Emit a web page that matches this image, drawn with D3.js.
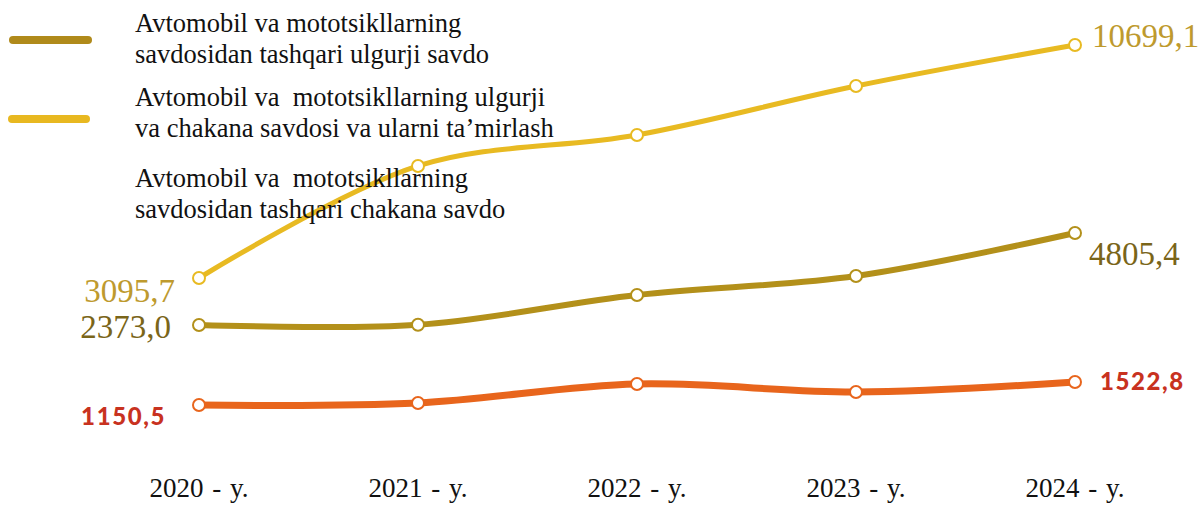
<!DOCTYPE html>
<html>
<head>
<meta charset="utf-8">
<script src="https://cdn.jsdelivr.net/npm/d3@7"></script>
<style>
  html, body { margin: 0; padding: 0; background: #fff; }
  svg { display: block; }
</style>
</head>
<body>
<script>
const width = 1203;
const height = 506;

const years = ["2020 - y.", "2021 - y.", "2022 - y.", "2023 - y.", "2024 - y."];

// ulgurji savdo (avtomobilsiz)
const wholesale = [2373.0, 2380.0, 3166.0, 3669.0, 4805.4];
// avtomobil savdosi va ta'mirlash
const autoTrade = [3095.7, 6751.0, 7762.0, 9361.0, 10699.1];
// chakana savdo (avtomobilsiz)
const retail = [1150.5, 1183.0, 1490.0, 1361.0, 1522.8];

const legendNames = [
  ["Avtomobil va mototsikllarning", "savdosidan tashqari ulgurji savdo"],
  ["Avtomobil va  mototsikllarning ulgurji", "va chakana savdosi va ularni ta\u2019mirlash"],
  ["Avtomobil va  mototsikllarning", "savdosidan tashqari chakana savdo"]
];

const fmt = v => d3.format(".1f")(v).replace(".", ",");

const svg = d3.select("body").append("svg")
  .attr("width", width)
  .attr("height", height);

const defs = svg.append("defs");
const shadow = defs.append("filter").attr("id", "shadow")
  .attr("x", "-20%").attr("y", "-100%").attr("width", "140%").attr("height", "400%");
shadow.append("feDropShadow")
  .attr("dx", 0).attr("dy", 4).attr("stdDeviation", 2)
  .attr("flood-color", "#888").attr("flood-opacity", 0.6);

const x = d3.scalePoint().domain(years).range([199, 1075]);

// each series sits on its own axis, like the original chart
const series = [
  {
    values: wholesale, color: "#B3901A", width: 6,
    y: d3.scaleLinear().domain([2373.0, 4805.4]).range([325, 233]),
    labelColor: "#7A6519"
  },
  {
    values: autoTrade, color: "#E8BA22", width: 5,
    y: d3.scaleLinear().domain([3095.7, 10699.1]).range([278, 45]),
    labelColor: "#BE9A2E"
  },
  {
    values: retail, color: "#E8651C", width: 7,
    y: d3.scaleLinear().domain([1150.5, 1522.8]).range([405, 382]),
    labelColor: "#C8321F"
  }
];

const line = s => d3.line()
  .x((d, i) => x(years[i]))
  .y(d => s.y(d))
  .curve(d3.curveCatmullRom.alpha(0.5));

// order of drawing: yellow behind
[series[1], series[0], series[2]].forEach(s => {
  svg.append("path")
    .datum(s.values)
    .attr("fill", "none")
    .attr("stroke", s.color)
    .attr("stroke-width", s.width)
    .attr("stroke-linecap", "round")
    .attr("d", line(s));

  svg.selectAll(null)
    .data(s.values)
    .enter()
    .append("circle")
    .attr("cx", (d, i) => x(years[i]))
    .attr("cy", d => s.y(d))
    .attr("r", 6)
    .attr("fill", "#fff")
    .attr("stroke", s.color)
    .attr("stroke-width", 2);
});

// end labels
const serifLabel = (s, i, dx, dy, anchor) => {
  svg.append("text")
    .attr("x", x(years[i]) + dx)
    .attr("y", s.y(s.values[i]) + dy)
    .attr("text-anchor", anchor)
    .style("font-family", "'Liberation Serif', 'Times New Roman', serif")
    .style("font-size", "33px")
    .attr("fill", s.labelColor)
    .text(fmt(s.values[i]));
};
serifLabel(series[1], 0, -24, 24, "end");
serifLabel(series[0], 0, -28, 13, "end");
serifLabel(series[1], 4, 17, 2, "start");
serifLabel(series[0], 4, 14, 32, "start");

const boldLabel = (s, i, dx, dy, anchor) => {
  svg.append("text")
    .attr("x", x(years[i]) + dx)
    .attr("y", s.y(s.values[i]) + dy)
    .attr("text-anchor", anchor)
    .style("font-family", "Lato, 'Open Sans', sans-serif")
    .style("font-weight", "900")
    .style("font-size", "24px")
    .style("letter-spacing", "1.6px")
    .attr("fill", s.labelColor)
    .text(fmt(s.values[i]));
};
boldLabel(series[2], 0, -33, 20, "end");
boldLabel(series[2], 4, 25, 8, "start");

// x axis labels
svg.append("g")
  .selectAll("text")
  .data(years)
  .enter()
  .append("text")
  .attr("x", d => x(d))
  .attr("y", 497)
  .attr("text-anchor", "middle")
  .style("font-family", "'Liberation Serif', 'Times New Roman', serif")
  .style("font-size", "27px")
  .style("word-spacing", "2px")
  .attr("fill", "#111")
  .text(d => d);

// legend
const legendItems = [
  { color: "#B08A1A", y: 40, x1: 13, x2: 88, w: 8, textY: 32 },
  { color: "#E8B820", y: 119, x1: 12, x2: 86, w: 8, textY: 106 },
  { color: "#C8361F", y: 197, x1: 18, x2: 92, w: 6, textY: 187, shadow: true }
];

const legend = svg.append("g").attr("class", "legend");
legendItems.forEach((item, i) => {
  legend.append("line")
    .attr("x1", item.x1).attr("x2", item.x2)
    .attr("y1", item.y).attr("y2", item.y)
    .attr("stroke", item.color)
    .attr("stroke-width", item.w)
    .attr("stroke-linecap", "round")
    .attr("filter", item.shadow ? "url(#shadow)" : null);

  const t = legend.append("text")
    .attr("x", 135)
    .attr("y", item.textY)
    .style("font-family", "'Liberation Serif', 'Times New Roman', serif")
    .style("font-size", "26.5px")
    .style("white-space", "pre")
    .attr("fill", "#111");
  legendNames[i].forEach((s, j) => {
    t.append("tspan")
      .attr("x", 135)
      .attr("dy", j === 0 ? 0 : 31)
      .text(s);
  });
});
</script>
</body>
</html>
